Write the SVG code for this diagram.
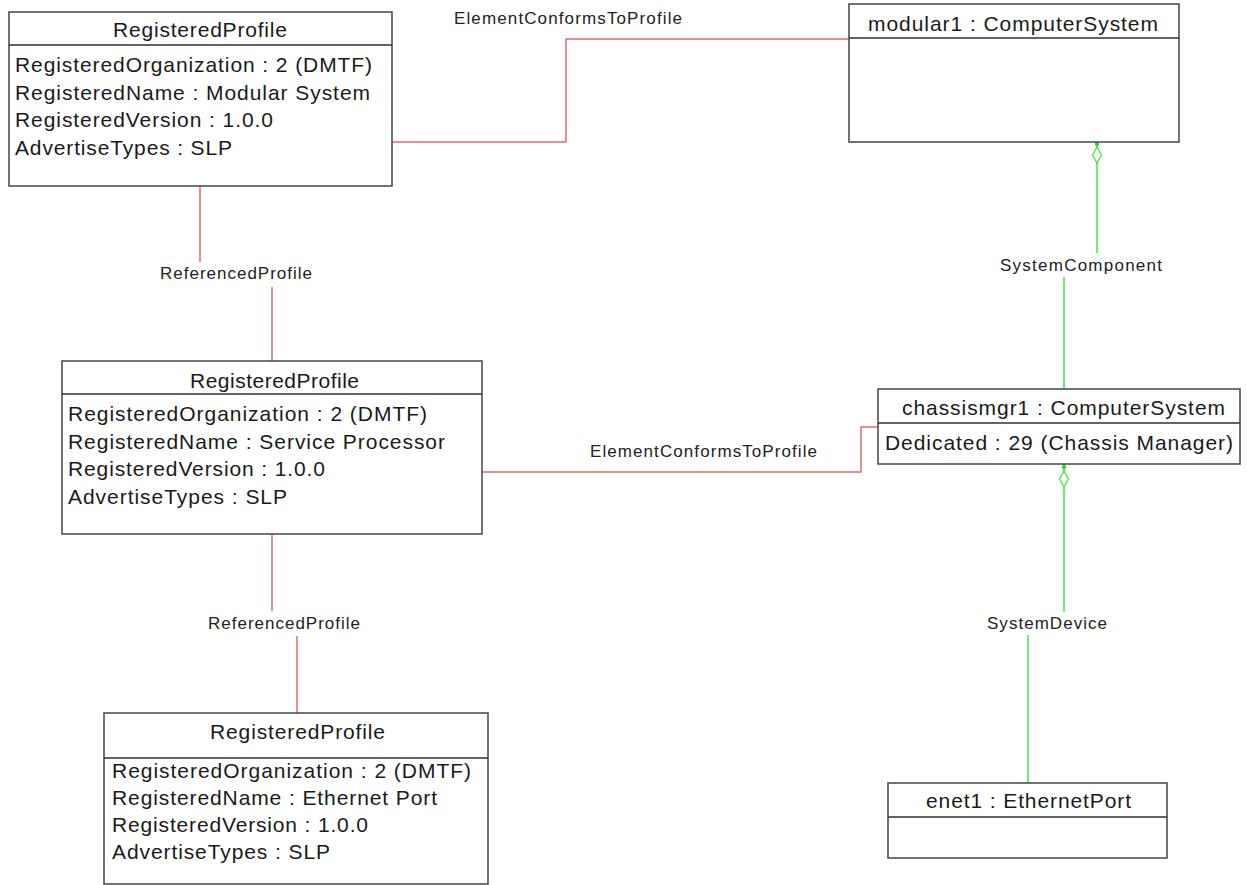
<svg xmlns="http://www.w3.org/2000/svg" width="1247" height="885" viewBox="0 0 1247 885">
<style>
.box{fill:#fff;stroke:#505050;stroke-width:1.6}
.sep{stroke:#303030;stroke-width:1.5}
.t{font-family:"Liberation Sans",Arial,sans-serif;font-size:21px;fill:#1a1a1a}
.l{font-family:"Liberation Sans",Arial,sans-serif;font-size:17px;fill:#222}
.red{fill:none;stroke:#e06a6a;stroke-width:1.5}
.grn{fill:none;stroke:#44e444;stroke-width:1.5}
.dia{fill:#fff;stroke:#44e444;stroke-width:1.3}
.dot{fill:#22dd22}
</style>
<rect width="1247" height="885" fill="#fff"/>
<g id="connectors">
<polyline class="red" points="392,142 566,142 566,39 849,39"/>
<polyline class="red" points="482,472 861,472 861,427 878,427"/>
<line class="red" x1="200" y1="186" x2="200" y2="262"/>
<line class="red" x1="272" y1="287" x2="272" y2="361"/>
<line class="red" x1="272" y1="534" x2="272" y2="611"/>
<line class="red" x1="297" y1="636" x2="297" y2="713"/>
<line class="grn" x1="1097" y1="142" x2="1097" y2="253"/>
<line class="grn" x1="1064" y1="277" x2="1064" y2="389"/>
<circle class="dot" cx="1097" cy="144" r="2.2"/>
<polygon class="dia" points="1097,147 1101.5,155 1097,163 1092.5,155"/>
<line class="grn" x1="1064" y1="464" x2="1064" y2="612"/>
<line class="grn" x1="1028" y1="635" x2="1028" y2="783"/>
<circle class="dot" cx="1064" cy="467" r="2.2"/>
<polygon class="dia" points="1064,471 1068.5,479 1064,487 1059.5,479"/>
<text class="l" x="454" y="24" textLength="228">ElementConformsToProfile</text>
<text class="l" x="590" y="457" textLength="227">ElementConformsToProfile</text>
<text class="l" x="160" y="279" textLength="152">ReferencedProfile</text>
<text class="l" x="208" y="629" textLength="152">ReferencedProfile</text>
<text class="l" x="1000" y="271" textLength="162">SystemComponent</text>
<text class="l" x="987" y="629" textLength="120">SystemDevice</text>
</g>
<g id="profile1">
<rect class="box" x="9" y="12" width="383" height="174"/>
<line class="sep" x1="9" y1="45" x2="392" y2="45"/>
<text class="t" x="113" y="37" textLength="174">RegisteredProfile</text>
<text class="t" x="15" y="72" textLength="357">RegisteredOrganization : 2 (DMTF)</text>
<text class="t" x="15" y="99.5" textLength="355">RegisteredName : Modular System</text>
<text class="t" x="15" y="127" textLength="258">RegisteredVersion : 1.0.0</text>
<text class="t" x="15" y="154.5" textLength="217">AdvertiseTypes : SLP</text>
</g>
<g id="modular1">
<rect class="box" x="849" y="4" width="330" height="138"/>
<line class="sep" x1="849" y1="38" x2="1179" y2="38"/>
<text class="t" x="868" y="31" textLength="290">modular1 : ComputerSystem</text>
</g>
<g id="profile2">
<rect class="box" x="62" y="361" width="420" height="173"/>
<line class="sep" x1="62" y1="394" x2="482" y2="394"/>
<text class="t" x="190" y="388" textLength="169">RegisteredProfile</text>
<text class="t" x="68" y="421" textLength="359">RegisteredOrganization : 2 (DMTF)</text>
<text class="t" x="68" y="448.5" textLength="377">RegisteredName : Service Processor</text>
<text class="t" x="68" y="476" textLength="257">RegisteredVersion : 1.0.0</text>
<text class="t" x="68" y="503.5" textLength="219">AdvertiseTypes : SLP</text>
</g>
<g id="chassismgr1">
<rect class="box" x="878" y="389" width="362" height="75"/>
<line class="sep" x1="878" y1="423" x2="1240" y2="423"/>
<text class="t" x="902" y="415" textLength="323">chassismgr1 : ComputerSystem</text>
<text class="t" x="885" y="450" textLength="348">Dedicated : 29 (Chassis Manager)</text>
</g>
<g id="profile3">
<rect class="box" x="104" y="713" width="384" height="171"/>
<line class="sep" x1="104" y1="758" x2="488" y2="758"/>
<text class="t" x="210" y="739" textLength="175">RegisteredProfile</text>
<text class="t" x="112" y="778" textLength="359">RegisteredOrganization : 2 (DMTF)</text>
<text class="t" x="112" y="805" textLength="325">RegisteredName : Ethernet Port</text>
<text class="t" x="112" y="832" textLength="256">RegisteredVersion : 1.0.0</text>
<text class="t" x="112" y="859" textLength="218">AdvertiseTypes : SLP</text>
</g>
<g id="enet1">
<rect class="box" x="888" y="783" width="279" height="75"/>
<line class="sep" x1="888" y1="817" x2="1167" y2="817"/>
<text class="t" x="926" y="808" textLength="205">enet1 : EthernetPort</text>
</g>
</svg>
